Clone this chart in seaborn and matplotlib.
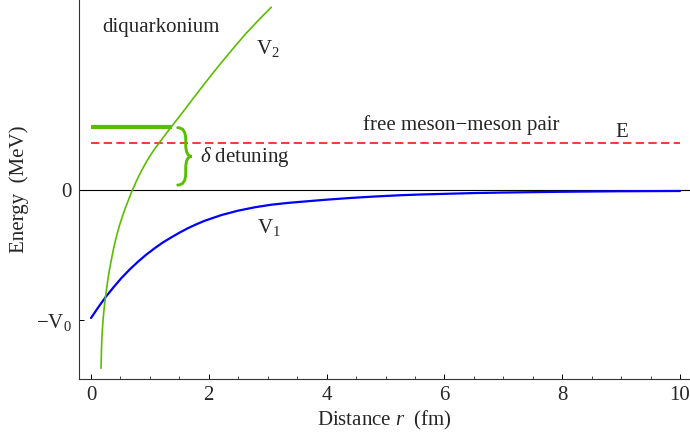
import numpy as np
import pandas as pd
import matplotlib
matplotlib.use("Agg")
import matplotlib.pyplot as plt
from matplotlib.path import Path
from matplotlib.patches import PathPatch
import seaborn as sns

# ==========================================
# DATA (V0 = 1)
# ==========================================
r_v1 = [0.0, 0.119, 0.24, 0.374, 0.515, 0.657, 0.798, 0.939, 1.081, 1.222,
        1.364, 1.505, 1.647, 1.789, 1.930, 2.213, 2.496, 2.779, 3.06, 3.345,
        3.55, 4.0, 4.4, 4.8, 5.24, 5.6, 6.09, 6.5, 7.0, 7.5, 8.0, 9.0, 10.0]
v1 = [-0.985, -0.905, -0.828, -0.752, -0.677, -0.610, -0.550, -0.495, -0.446,
      -0.401, -0.362, -0.325, -0.291, -0.261, -0.234, -0.190, -0.156, -0.130,
      -0.110, -0.096, -0.088, -0.071, -0.058, -0.047, -0.037, -0.031, -0.025,
      -0.020, -0.016, -0.013, -0.010, -0.006, -0.004]

r_v2 = [0.170, 0.176, 0.183, 0.195, 0.207, 0.225, 0.245, 0.270, 0.294, 0.320,
        0.351, 0.385, 0.419, 0.455, 0.492, 0.535, 0.577, 0.635, 0.691, 0.775,
        0.86, 0.945, 1.03, 1.10, 1.17, 1.28, 1.39, 1.55, 1.70, 1.93, 2.16,
        2.40, 2.63, 2.85, 3.06]
v2 = [-1.373, -1.26, -1.154, -1.06, -0.985, -0.90, -0.825, -0.74, -0.665,
      -0.595, -0.522, -0.445, -0.378, -0.315, -0.257, -0.197, -0.143, -0.074,
      -0.010, 0.077, 0.155, 0.225, 0.287, 0.333, 0.375, 0.442, 0.507, 0.600,
      0.690, 0.826, 0.958, 1.090, 1.212, 1.318, 1.415]

E_level = 0.367          # free meson-meson threshold (red dashed)
bound_level = 0.493      # diquarkonium level (thick green)
bound_r = [0.0, 1.38]
E_r = [0.0, 10.0]

x_ticks = [0, 2, 4, 6, 8, 10]
y_ticks = [-1.0, 0.0]
y_ticklabels = [r"$-\mathrm{V}_0$", "0"]

GREEN = "#5bbd00"
BLUE = "#0000ff"
RED = "#ff1414"

# ==========================================
# STYLE
# ==========================================
sns.set_theme(style="ticks")
plt.rcParams["font.family"] = ["Liberation Serif", "DejaVu Serif"]
plt.rcParams["mathtext.fontset"] = "custom"
plt.rcParams["mathtext.rm"] = "Liberation Serif"
plt.rcParams["mathtext.it"] = "Liberation Serif:italic"
plt.rcParams["mathtext.default"] = "rm"

FS = 15

fig = plt.figure(figsize=(6.9, 4.34), dpi=100)
ax = fig.add_axes([79 / 690, 55 / 434, 611 / 690, 379 / 434])

# zero line
ax.axhline(0, color="black", lw=0.8, zorder=1)

df1 = pd.DataFrame({"r": r_v1, "V": v1})
df2 = pd.DataFrame({"r": r_v2, "V": v2})
sns.lineplot(data=df1, x="r", y="V", color=BLUE, lw=1.6, sort=False, ax=ax, zorder=3)
sns.lineplot(data=df2, x="r", y="V", color=GREEN, lw=1.2, sort=False, ax=ax, zorder=3)

# energy levels
ax.plot(E_r, [E_level] * 2, color=RED, lw=1.2, dashes=(5.0, 2.6), zorder=2)
ax.plot(bound_r, [bound_level] * 2, color=GREEN, lw=3.0, solid_capstyle="butt", zorder=2)

# curly brace between the two levels
xe, xs, xt = 1.472, 1.608, 1.71
yt, yb = 0.485, 0.042
ym = (yt + yb) / 2
c = 0.09
verts = [(xe, yt), (xs, yt), (xs, yt - c),
         (xs, ym + c), (xs, ym), (xt, ym),
         (xs, ym), (xs, ym - c),
         (xs, yb + c), (xs, yb), (xe, yb)]
codes = [Path.MOVETO, Path.CURVE3, Path.CURVE3,
         Path.LINETO, Path.CURVE3, Path.CURVE3,
         Path.CURVE3, Path.CURVE3,
         Path.LINETO, Path.CURVE3, Path.CURVE3]
ax.add_patch(PathPatch(Path(verts, codes), fill=False, edgecolor=GREEN, lw=2.1,
                       capstyle="round", zorder=3))

# annotations
ax.text(0.199, 1.222, "diquarkonium", fontsize=FS, ha="left", va="baseline")
ax.text(2.80, 1.052, r"$\mathrm{V}_2$", fontsize=FS, ha="left", va="baseline")
ax.text(2.81, -0.331, r"$\mathrm{V}_1$", fontsize=FS, ha="left", va="baseline")
ax.text(1.85, 0.218, r"$\it{\delta}$ detuning", fontsize=FS, ha="left", va="baseline")
ax.text(4.62, 0.467, "free meson\u2212meson pair", fontsize=FS, ha="left", va="baseline")
ax.text(8.90, 0.411, "E", fontsize=FS, ha="left", va="baseline")

# axes
ax.set_xlim(-0.204, 10.17)
ax.set_ylim(-1.456, 1.471)
ax.set_xticks(x_ticks)
ax.set_xticks(np.arange(0, 10.01, 0.5), minor=True)
ax.set_yticks(y_ticks)
ax.set_yticklabels(y_ticklabels)
ax.tick_params(axis="both", which="major", direction="in", length=3.4, width=0.7,
               labelsize=FS, pad=5, color="black")
ax.tick_params(axis="x", which="minor", direction="in", length=2.0, width=0.6)
ax.set_xlabel(r"Distance $\it{r}$  (fm)", fontsize=FS, labelpad=3)
ax.set_ylabel("Energy  (MeV)", fontsize=FS, labelpad=5)

for side in ["top", "right"]:
    ax.spines[side].set_visible(False)
for side in ["left", "bottom"]:
    ax.spines[side].set_linewidth(0.8)
    ax.spines[side].set_color("#333333")

ax.set_facecolor("white")
fig.patch.set_facecolor("white")
fig.savefig("out.png", dpi=100)
